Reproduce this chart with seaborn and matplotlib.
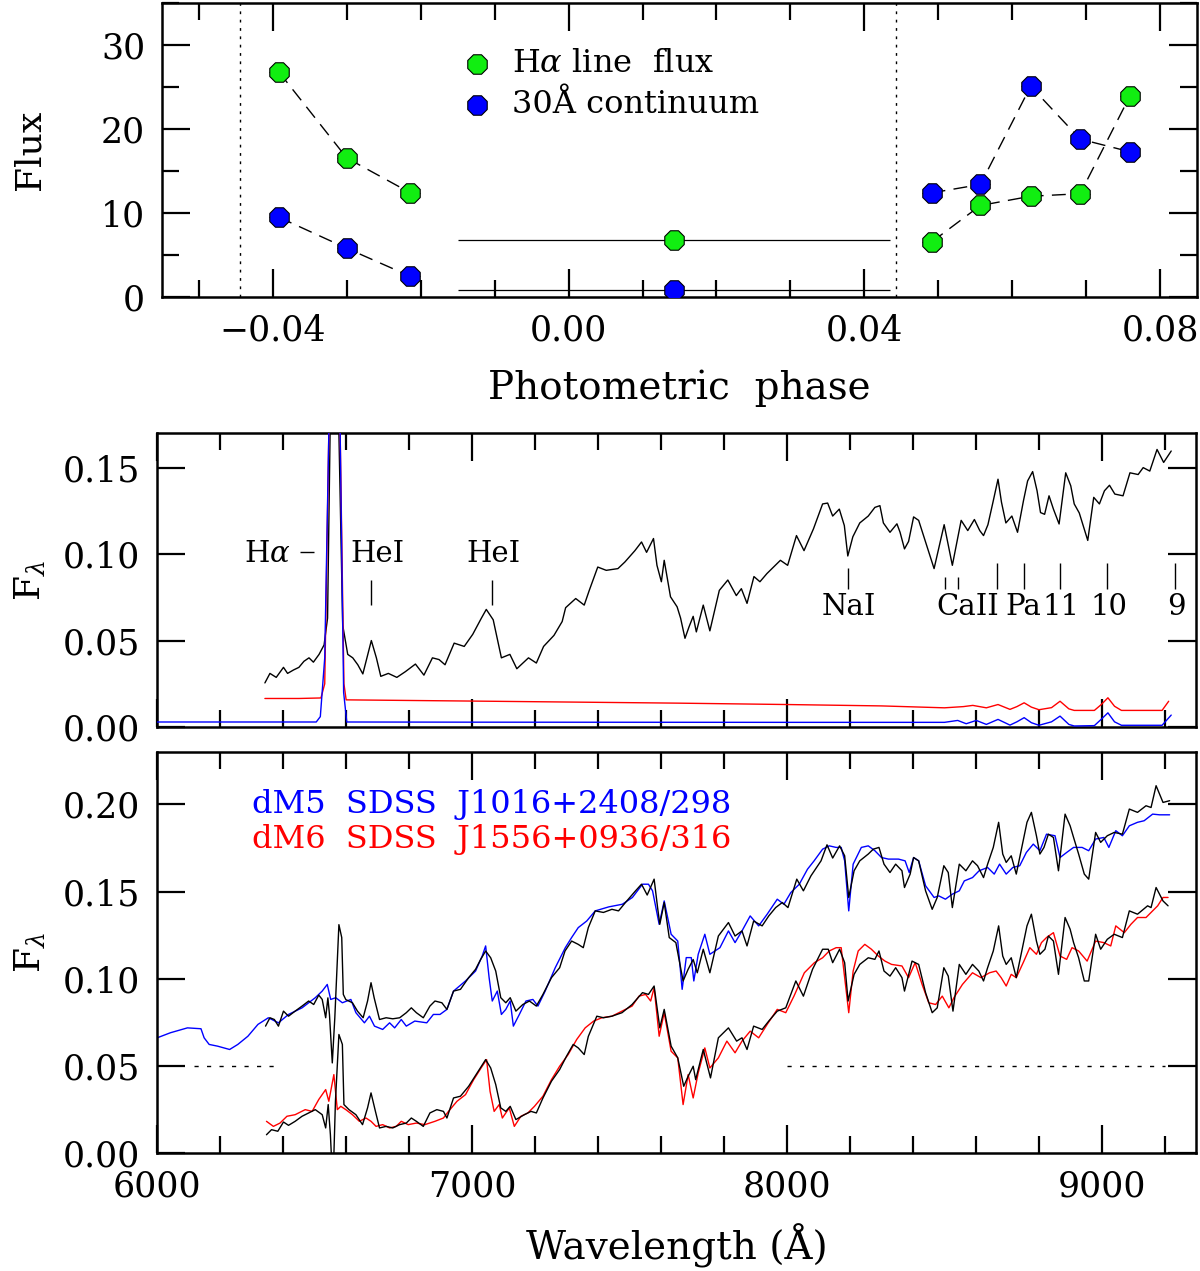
import numpy as np
import matplotlib
matplotlib.use("Agg")
import matplotlib.pyplot as plt
import seaborn as sns
from matplotlib.ticker import MultipleLocator

# ---------------- top panel: line and continuum flux vs phase ----------------
phase = [-0.0392, -0.0300, -0.0214, 0.0143, 0.0491, 0.0557, 0.0625, 0.0692, 0.0759]
phase_err = [0.0013, 0.0013, 0.0013, 0.0292, 0.0013, 0.0013, 0.0013, 0.0013, 0.0013]
ha_flux = [26.8, 16.55, 12.4, 6.8, 6.55, 10.9, 12.0, 12.3, 23.9]
cont_flux = [9.5, 5.8, 2.46, 0.83, 12.4, 13.4, 25.1, 18.8, 17.3]
eclipse_edges = [-0.0444, 0.0443]

# ---------------- middle panel: observed spectrum + emission models ----------------
mid_wave = [6342, 6358, 6378, 6401, 6414, 6433, 6450, 6466, 6482, 6496, 6514, 6530,
            6541, 6549, 6563, 6577, 6589, 6605, 6621, 6637, 6653, 6680, 6696, 6710,
            6734, 6761, 6788, 6820, 6847, 6874, 6895, 6914, 6943, 6975, 7002, 7029,
            7045, 7067, 7093, 7120, 7142, 7179, 7204, 7227, 7260, 7286, 7297, 7329,
            7356, 7372, 7399, 7426, 7463, 7485, 7517, 7538, 7554, 7576, 7587, 7601,
            7610, 7630, 7651, 7662, 7676, 7689, 7702, 7712, 7734, 7755, 7785, 7812,
            7839, 7855, 7873, 7895, 7914, 7936, 7957, 7979, 8002, 8030, 8054, 8084,
            8113, 8129, 8145, 8166, 8182, 8193, 8209, 8231, 8258, 8279, 8295, 8306,
            8327, 8349, 8359, 8373, 8386, 8402, 8418, 8440, 8467, 8499, 8525, 8553,
            8574, 8595, 8612, 8624, 8638, 8654, 8670, 8681, 8695, 8714, 8732, 8751,
            8764, 8780, 8794, 8805, 8818, 8832, 8846, 8864, 8885, 8901, 8912, 8928,
            8955, 8974, 8992, 9008, 9024, 9041, 9067, 9089, 9115, 9131, 9152, 9175,
            9196, 9220]
mid_flux = [0.0255, 0.031, 0.0287, 0.0345, 0.031, 0.033, 0.0345, 0.038, 0.040, 0.0375,
            0.042, 0.0475, 0.063, 0.17, 0.6, 0.17, 0.059, 0.042, 0.040, 0.036, 0.0307,
            0.050, 0.040, 0.0293, 0.031, 0.0287, 0.032, 0.0364, 0.030, 0.040, 0.039,
            0.036, 0.0485, 0.0466, 0.0536, 0.0628, 0.068, 0.062, 0.040, 0.042, 0.0337,
            0.040, 0.037, 0.0466, 0.053, 0.061, 0.069, 0.0743, 0.0705, 0.079, 0.0925,
            0.0906, 0.0916, 0.0954, 0.102, 0.107, 0.101, 0.109, 0.0935, 0.084, 0.0964,
            0.0753, 0.0695, 0.063, 0.0513, 0.058, 0.064, 0.055, 0.0705, 0.0556, 0.079,
            0.085, 0.076, 0.080, 0.0715, 0.087, 0.084, 0.0887, 0.0925, 0.0964, 0.0935,
            0.1107, 0.102, 0.1146, 0.129, 0.1295, 0.122, 0.126, 0.1165, 0.0989, 0.110,
            0.118, 0.122, 0.127, 0.128, 0.118, 0.1126, 0.1175, 0.1126, 0.103, 0.1073,
            0.1215, 0.1195, 0.107, 0.0916, 0.117, 0.0935, 0.1195, 0.1136, 0.120, 0.1136,
            0.1107, 0.117, 0.130, 0.1433, 0.130, 0.118, 0.122, 0.1126, 0.131, 0.1423,
            0.1477, 0.1366, 0.124, 0.123, 0.1337, 0.126, 0.1174, 0.147, 0.1395, 0.129,
            0.1238, 0.1079, 0.1328, 0.129, 0.1366, 0.1398, 0.1347, 0.1337, 0.147, 0.146,
            0.150, 0.148, 0.1605, 0.153, 0.1596]

red_model_wave = [6342, 6450, 6520, 6532, 6545, 6563, 6581, 6593, 6600, 7000, 7654,
                  8000, 8300, 8500, 8560, 8590, 8633, 8670, 8708, 8730, 8753, 8776,
                  8800, 8840, 8867, 8895, 8912, 8976, 8998, 9019, 9040, 9062, 9191, 9212]
red_model = [0.0165, 0.0165, 0.0168, 0.025, 0.17, 0.6, 0.17, 0.025, 0.0157, 0.0150,
             0.0138, 0.0130, 0.0122, 0.0111, 0.0118, 0.0125, 0.0111, 0.0130, 0.0102,
             0.0118, 0.0140, 0.0115, 0.0100, 0.0112, 0.0149, 0.0105, 0.0096, 0.0096,
             0.0130, 0.0169, 0.0120, 0.0096, 0.0096, 0.0149]

blue_model_wave = [6000, 6505, 6518, 6532, 6545, 6563, 6581, 6592, 6602, 7000, 8000,
                   8500, 8542, 8569, 8601, 8633, 8670, 8708, 8730, 8753, 8776, 8800,
                   8840, 8867, 8895, 8912, 8976, 8998, 9019, 9040, 9062, 9191, 9220]
blue_model = [0.0029, 0.0029, 0.006, 0.04, 0.17, 0.6, 0.17, 0.02, 0.0029, 0.0028,
              0.0027, 0.0027, 0.0038, 0.0019, 0.0038, 0.0015, 0.0044, 0.0011, 0.0030,
              0.0054, 0.0025, 0.0010, 0.0030, 0.0063, 0.0015, 0.0006, 0.0008, 0.0045,
              0.0082, 0.0030, 0.0010, 0.0010, 0.0069]

# line identifications (label, wavelength of label, y)
line_labels = ["HeI", "HeI", "NaI", "CaII", "Pa", "11", "10", "9"]
line_label_wave = [6700, 7069, 8195, 8574, 8751, 8869, 9021, 9236]
line_label_y = [0.100, 0.100, 0.0695, 0.0695, 0.0695, 0.0695, 0.0695, 0.0695]
mark_wave = [6678, 7064, 8193, 8501, 8544, 8668, 8751, 8866, 9017, 9231]
mark_lo = [0.0705, 0.0705, 0.080, 0.080, 0.080, 0.080, 0.080, 0.080, 0.080, 0.080]
mark_hi = [0.085, 0.085, 0.092, 0.0868, 0.0868, 0.095, 0.095, 0.095, 0.095, 0.095]

# ---------------- bottom panel: model-subtracted spectra vs templates ----------------
up_wave = [6344, 6358, 6372, 6385, 6401, 6417, 6438, 6460, 6481, 6497, 6513, 6524,
           6535, 6542, 6547, 6556, 6564, 6577, 6586, 6591, 6599, 6620, 6636, 6654,
           6668, 6679, 6689, 6706, 6727, 6748, 6770, 6791, 6807, 6823, 6845, 6866,
           6882, 6904, 6920, 6941, 6963, 6989, 7011, 7027, 7043, 7059, 7075, 7091,
           7107, 7121, 7139, 7161, 7182, 7204, 7225, 7252, 7278, 7295, 7316, 7337,
           7353, 7369, 7391, 7417, 7444, 7465, 7487, 7519, 7538, 7556, 7578, 7589,
           7596, 7610, 7626, 7647, 7670, 7686, 7702, 7715, 7734, 7755, 7782, 7814,
           7835, 7857, 7873, 7894, 7921, 7942, 7964, 7985, 8003, 8031, 8052, 8076,
           8108, 8127, 8145, 8167, 8183, 8196, 8213, 8231, 8258, 8274, 8292, 8308,
           8327, 8345, 8365, 8373, 8391, 8402, 8418, 8440, 8461, 8477, 8498, 8512,
           8525, 8547, 8568, 8589, 8605, 8624, 8637, 8655, 8672, 8685, 8696, 8712,
           8728, 8750, 8762, 8776, 8792, 8803, 8816, 8830, 8846, 8862, 8883, 8899,
           8910, 8926, 8944, 8958, 8980, 8996, 9017, 9039, 9065, 9087, 9113, 9140,
           9156, 9172, 9194, 9215]
up_flux = [0.0728, 0.0776, 0.0766, 0.0728, 0.0814, 0.0785, 0.0814, 0.0843, 0.0872,
           0.0852, 0.0906, 0.0881, 0.0776, 0.089, 0.0795, 0.0517, 0.0776, 0.131, 0.1236,
           0.091, 0.088, 0.0862, 0.0814, 0.0776, 0.0872, 0.0977, 0.089, 0.0766, 0.0776,
           0.077, 0.0776, 0.0805, 0.0833, 0.0805, 0.0776, 0.0843, 0.0872, 0.0862, 0.0824,
           0.0929, 0.0939, 0.1006, 0.1054, 0.111, 0.1159, 0.112, 0.1044, 0.0891, 0.0862,
           0.0891, 0.0814, 0.0852, 0.0872, 0.0843, 0.091, 0.1006, 0.1063, 0.1159, 0.1216,
           0.1197, 0.1178, 0.1293, 0.1389, 0.138, 0.1398, 0.1389, 0.1437, 0.1504, 0.1542,
           0.148, 0.1571, 0.1408, 0.1312, 0.1437, 0.1236, 0.1207, 0.0987, 0.1054, 0.111,
           0.1034, 0.1169, 0.1034, 0.1245, 0.1322, 0.1245, 0.1274, 0.1188, 0.1331, 0.1303,
           0.136, 0.1408, 0.1437, 0.1408, 0.1571, 0.1504, 0.159, 0.1676, 0.1768, 0.1692,
           0.1762, 0.1705, 0.1466, 0.1619, 0.1676, 0.1715, 0.1743, 0.1753, 0.1657, 0.1609,
           0.1657, 0.1619, 0.1523, 0.16, 0.1695, 0.1676, 0.1504, 0.1398, 0.1466, 0.1648,
           0.1609, 0.1408, 0.1657, 0.1619, 0.1676, 0.1648, 0.158, 0.1657, 0.1753, 0.1897,
           0.1715, 0.1667, 0.1705, 0.16, 0.1791, 0.1897, 0.1954, 0.182, 0.1715, 0.1753,
           0.1829, 0.181, 0.1619, 0.1944, 0.1877, 0.181, 0.1715, 0.16, 0.1571, 0.1839,
           0.1782, 0.182, 0.1839, 0.1829, 0.1973, 0.1954, 0.1992, 0.1982, 0.2107, 0.2011,
           0.2021]

dm5_wave = [6000, 6042, 6096, 6139, 6149, 6165, 6192, 6230, 6256, 6288, 6320, 6353,
            6385, 6417, 6460, 6502, 6524, 6540, 6551, 6567, 6588, 6615, 6631, 6658,
            6674, 6690, 6716, 6738, 6754, 6775, 6791, 6818, 6856, 6877, 6898, 6920,
            6941, 6979, 7011, 7032, 7043, 7054, 7064, 7080, 7093, 7107, 7121, 7131,
            7150, 7171, 7193, 7209, 7232, 7264, 7296, 7316, 7337, 7364, 7391, 7434,
            7477, 7509, 7541, 7560, 7573, 7594, 7610, 7632, 7653, 7667, 7680, 7696,
            7704, 7718, 7739, 7755, 7787, 7814, 7835, 7857, 7883, 7910, 7937, 7969,
            7990, 8012, 8039, 8065, 8086, 8113, 8134, 8156, 8172, 8183, 8196, 8210,
            8236, 8258, 8279, 8300, 8322, 8354, 8375, 8388, 8402, 8418, 8440, 8467,
            8482, 8503, 8525, 8547, 8563, 8589, 8610, 8637, 8658, 8675, 8696, 8717,
            8739, 8760, 8782, 8803, 8824, 8851, 8867, 8888, 8910, 8937, 8958, 8980,
            9006, 9022, 9044, 9065, 9087, 9113, 9134, 9161, 9183, 9215]
dm5_flux = [0.0661, 0.069, 0.0718, 0.0713, 0.0661, 0.0623, 0.0613, 0.0594, 0.0623,
            0.067, 0.0738, 0.0776, 0.0747, 0.0795, 0.0833, 0.0891, 0.0929, 0.0967,
            0.0881, 0.0891, 0.0862, 0.0881, 0.0805, 0.0747, 0.0785, 0.0728, 0.0709,
            0.0747, 0.0718, 0.0766, 0.0728, 0.0757, 0.0747, 0.0795, 0.0795, 0.0824,
            0.0929, 0.0987, 0.1044, 0.113, 0.1188, 0.1006, 0.0872, 0.0929, 0.0795,
            0.0824, 0.0872, 0.0728, 0.0795, 0.0872, 0.0881, 0.0843, 0.0929, 0.1063,
            0.1178, 0.1236, 0.1293, 0.1331, 0.1389, 0.1412, 0.1427, 0.1466, 0.1542,
            0.1542, 0.1504, 0.1312, 0.1446, 0.1255, 0.1216, 0.0939, 0.1121, 0.1121,
            0.0987, 0.114, 0.1255, 0.114, 0.1178, 0.1274, 0.1207, 0.1274, 0.136, 0.1303,
            0.137, 0.1456, 0.1427, 0.1494, 0.1542, 0.1628, 0.1676, 0.1743, 0.1762,
            0.1753, 0.1753, 0.1676, 0.1389, 0.1657, 0.1753, 0.1762, 0.1734, 0.1695,
            0.1686, 0.1686, 0.1676, 0.1609, 0.1695, 0.1676, 0.1533, 0.1466, 0.1475,
            0.1456, 0.1485, 0.1504, 0.1561, 0.158, 0.1619, 0.1638, 0.16, 0.1657, 0.16,
            0.1638, 0.1648, 0.1724, 0.1772, 0.1734, 0.1829, 0.182, 0.1695, 0.1724,
            0.1753, 0.1753, 0.1734, 0.1801, 0.181, 0.1753, 0.1849, 0.182, 0.1877, 0.1897,
            0.1906, 0.1944, 0.194, 0.194]

lo_wave = [6347, 6363, 6383, 6401, 6417, 6438, 6460, 6481, 6502, 6524, 6535, 6543,
           6550, 6558, 6566, 6577, 6588, 6593, 6609, 6631, 6652, 6668, 6679, 6693,
           6706, 6727, 6748, 6770, 6791, 6807, 6823, 6845, 6866, 6888, 6909, 6920,
           6941, 6963, 6989, 7016, 7043, 7059, 7075, 7091, 7107, 7121, 7139, 7166,
           7187, 7204, 7225, 7252, 7278, 7300, 7321, 7337, 7356, 7369, 7396, 7417,
           7444, 7476, 7508, 7541, 7560, 7578, 7589, 7596, 7610, 7632, 7653, 7672,
           7686, 7702, 7710, 7734, 7757, 7782, 7814, 7840, 7857, 7873, 7894, 7921,
           7942, 7969, 7996, 8028, 8052, 8081, 8113, 8131, 8145, 8167, 8183, 8194,
           8213, 8231, 8258, 8279, 8292, 8308, 8327, 8345, 8365, 8373, 8397, 8418,
           8440, 8461, 8477, 8498, 8512, 8527, 8547, 8568, 8589, 8609, 8624, 8637,
           8655, 8672, 8685, 8696, 8712, 8728, 8750, 8762, 8776, 8792, 8803, 8819,
           8830, 8846, 8862, 8883, 8899, 8910, 8926, 8944, 8958, 8980, 8996, 9017,
           9039, 9065, 9087, 9113, 9145, 9156, 9172, 9194, 9210]
lo_flux = [0.0105, 0.0134, 0.0125, 0.0178, 0.0159, 0.0182, 0.0211, 0.023, 0.0249,
           0.022, 0.0144, 0.0278, 0.0105, -0.02, 0.0297, 0.068, 0.0623, 0.0278, 0.0249,
           0.022, 0.0163, 0.0259, 0.0345, 0.0239, 0.0144, 0.0153, 0.0144, 0.0163,
           0.0172, 0.0201, 0.0182, 0.0153, 0.023, 0.0249, 0.0239, 0.0201, 0.0316,
           0.0326, 0.0383, 0.046, 0.0536, 0.0488, 0.0393, 0.0259, 0.0239, 0.0268,
           0.0192, 0.022, 0.0239, 0.023, 0.0316, 0.0412, 0.0479, 0.0556, 0.0623,
           0.0603, 0.0565, 0.0669, 0.0785, 0.0776, 0.0785, 0.0805, 0.0852, 0.092,
           0.091, 0.0958, 0.0814, 0.0718, 0.0824, 0.0613, 0.0546, 0.0383, 0.044,
           0.0498, 0.0421, 0.0594, 0.0431, 0.0661, 0.0718, 0.0642, 0.0661, 0.0594,
           0.0728, 0.0709, 0.0757, 0.0814, 0.0833, 0.0987, 0.09, 0.1054, 0.1169, 0.1169,
           0.1092, 0.1169, 0.1092, 0.0872, 0.1025, 0.1082, 0.112, 0.1111, 0.1159,
           0.1044, 0.1015, 0.1063, 0.1006, 0.0929, 0.1101, 0.1082, 0.092, 0.0805,
           0.0833, 0.1063, 0.1015, 0.0814, 0.1082, 0.1025, 0.1082, 0.1044, 0.0987,
           0.1063, 0.1159, 0.1303, 0.113, 0.1082, 0.112, 0.1006, 0.1197, 0.1303, 0.137,
           0.1216, 0.114, 0.1169, 0.1245, 0.1216, 0.1025, 0.1351, 0.1284, 0.1207, 0.112,
           0.0987, 0.0987, 0.1255, 0.1169, 0.1226, 0.1255, 0.1236, 0.1389, 0.137,
           0.1418, 0.1408, 0.1523, 0.1446, 0.1418]

dm6_wave = [6347, 6369, 6390, 6412, 6438, 6470, 6492, 6513, 6535, 6545, 6561, 6572,
            6583, 6599, 6620, 6642, 6663, 6679, 6695, 6716, 6738, 6759, 6775, 6797,
            6823, 6850, 6882, 6909, 6925, 6952, 6979, 7005, 7032, 7046, 7057, 7070,
            7086, 7096, 7118, 7134, 7155, 7177, 7198, 7225, 7252, 7278, 7305, 7332,
            7359, 7386, 7412, 7444, 7476, 7508, 7530, 7551, 7567, 7578, 7594, 7610,
            7632, 7653, 7670, 7686, 7702, 7718, 7739, 7755, 7782, 7809, 7835, 7857,
            7883, 7910, 7937, 7969, 7996, 8022, 8055, 8087, 8113, 8134, 8156, 8172,
            8183, 8196, 8210, 8226, 8247, 8268, 8290, 8311, 8332, 8365, 8386, 8407,
            8429, 8450, 8472, 8493, 8514, 8530, 8557, 8589, 8616, 8643, 8664, 8680,
            8696, 8712, 8728, 8750, 8771, 8792, 8808, 8824, 8846, 8867, 8888, 8905,
            8926, 8953, 8980, 9006, 9028, 9044, 9071, 9092, 9113, 9140, 9161, 9177,
            9194, 9210]
dm6_flux = [0.0182, 0.0153, 0.0172, 0.0211, 0.022, 0.0249, 0.0239, 0.0307, 0.0364,
            0.0297, 0.045, 0.0249, 0.0268, 0.0249, 0.022, 0.0182, 0.0201, 0.0182,
            0.0153, 0.0163, 0.0144, 0.0153, 0.0182, 0.0163, 0.0172, 0.0163, 0.0182,
            0.0201, 0.0239, 0.0297, 0.0335, 0.0421, 0.0498, 0.0536, 0.0354, 0.0239,
            0.0278, 0.0201, 0.0259, 0.0153, 0.0211, 0.023, 0.0268, 0.0326, 0.0421,
            0.0498, 0.0565, 0.0651, 0.0718, 0.0757, 0.0776, 0.0785, 0.0814, 0.0843,
            0.09, 0.091, 0.0872, 0.0948, 0.067, 0.0805, 0.0584, 0.0546, 0.0278, 0.045,
            0.0316, 0.046, 0.0603, 0.0488, 0.0546, 0.0642, 0.0575, 0.0642, 0.0699,
            0.0661, 0.0738, 0.0824, 0.0805, 0.09, 0.1034, 0.1092, 0.112, 0.1159, 0.1178,
            0.1178, 0.1006, 0.0805, 0.1044, 0.1159, 0.1197, 0.1169, 0.113, 0.1101,
            0.1082, 0.1073, 0.1006, 0.1092, 0.0967, 0.0862, 0.0852, 0.09, 0.0833,
            0.0891, 0.0967, 0.1034, 0.1006, 0.1034, 0.1044, 0.1006, 0.0958, 0.1025,
            0.1006, 0.1092, 0.1178, 0.114, 0.1207, 0.1236, 0.1264, 0.113, 0.1111,
            0.1178, 0.1159, 0.1101, 0.1216, 0.1207, 0.1188, 0.1303, 0.1264, 0.1312,
            0.1351, 0.1351, 0.1389, 0.1418, 0.1466, 0.1466]

dm5_label = "dM5  SDSS  J1016+2408/298"
dm6_label = "dM6  SDSS  J1556+0936/316"

# ---------------- styling ----------------
sns.set_theme(style="ticks")
plt.rcParams["font.family"] = ["DejaVu Serif"]
plt.rcParams["mathtext.fontset"] = "dejavuserif"
plt.rcParams["text.color"] = "black"
plt.rcParams["axes.labelcolor"] = "black"
plt.rcParams["xtick.color"] = "black"
plt.rcParams["ytick.color"] = "black"

GREEN = "#11ee11"
BLUE = "#0000ff"
RED = "#ff0000"
TICK_FS = 25
LABEL_FS = 28


def style_axis(ax):
    for sp in ax.spines.values():
        sp.set_linewidth(1.8)
        sp.set_color("black")
    ax.tick_params(which="both", direction="in", top=True, right=True,
                   width=1.6, colors="black", labelsize=TICK_FS, pad=12)
    ax.tick_params(which="major", length=20)
    ax.tick_params(which="minor", length=12)


fig = plt.figure(figsize=(12, 12.71), dpi=100)
ax1 = fig.add_axes([0.135, 0.7663, 0.8625, 0.2313])
ax2 = fig.add_axes([0.131, 0.428, 0.866, 0.2313])
ax3 = fig.add_axes([0.131, 0.0928, 0.866, 0.3155])

# ---- top panel ----
ph = np.array(phase)
ha = np.array(ha_flux)
ct = np.array(cont_flux)
dash = (0, (10, 6))
for sl in (slice(0, 3), slice(4, 9)):
    ax1.plot(ph[sl], ha[sl], color="black", lw=1.0, ls=dash, zorder=1)
    ax1.plot(ph[sl], ct[sl], color="black", lw=1.0, ls=dash, zorder=1)
ax1.errorbar(ph, ha, xerr=phase_err, fmt="none", ecolor="black", elinewidth=0.9,
             capsize=0, zorder=2)
ax1.errorbar(ph, ct, xerr=phase_err, fmt="none", ecolor="black", elinewidth=0.9,
             capsize=0, zorder=2)
sns.scatterplot(x=ph, y=ha, ax=ax1, marker="8", s=230, color=GREEN,
                edgecolor="black", linewidth=0.8, zorder=3,
                label=r"H$\alpha$ line  flux")
sns.scatterplot(x=ph, y=ct, ax=ax1, marker="8", s=230, color=BLUE,
                edgecolor="black", linewidth=0.8, zorder=3,
                label="30Å continuum")
for xe in eclipse_edges:
    ax1.axvline(xe, color="black", lw=1.0, ls=(0, (2, 4)), zorder=0)
ax1.set_xlim(-0.055, 0.085)
ax1.set_ylim(0, 35)
ax1.xaxis.set_major_locator(MultipleLocator(0.04))
ax1.xaxis.set_minor_locator(MultipleLocator(0.01))
ax1.yaxis.set_major_locator(MultipleLocator(10))
ax1.yaxis.set_minor_locator(MultipleLocator(5))
ax1.xaxis.set_major_formatter(matplotlib.ticker.FuncFormatter(
    lambda v, p: ("\u2212" if v < -1e-9 else "") + f"{abs(v):.2f}"))
ax1.set_xlabel("Photometric  phase", fontsize=LABEL_FS, labelpad=16)
ax1.set_ylabel("Flux", fontsize=26)
ax1.yaxis.set_label_coords(-0.112, 0.5)
leg = ax1.legend(loc="upper left", bbox_to_anchor=(0.27, 0.9), frameon=False,
                 fontsize=23, handlelength=1.2, handletextpad=0.5,
                 labelspacing=0.3, borderpad=0)
for t in leg.get_texts():
    t.set_color("black")
style_axis(ax1)

# ---- middle panel ----
sns.lineplot(x=mid_wave, y=mid_flux, ax=ax2, color="black", lw=1.0,
             estimator=None, sort=False, zorder=2)
sns.lineplot(x=red_model_wave, y=red_model, ax=ax2, color=RED, lw=1.0,
             estimator=None, sort=False, zorder=3)
sns.lineplot(x=blue_model_wave, y=blue_model, ax=ax2, color=BLUE, lw=1.0,
             estimator=None, sort=False, zorder=3)
ax2.vlines(mark_wave, mark_lo, mark_hi, color="black", lw=1.0)
for lab, xw, yv in zip(line_labels, line_label_wave, line_label_y):
    ax2.text(xw, yv, lab, fontsize=21, ha="center", va="center", color="black")
ax2.text(6348, 0.100, r"H$\alpha$", fontsize=21, ha="center", va="center",
         color="black")
ax2.hlines(0.101, 6453, 6498, color="black", lw=1.0)
ax2.set_xlim(6000, 9300)
ax2.set_ylim(0, 0.17)
ax2.xaxis.set_major_locator(MultipleLocator(1000))
ax2.xaxis.set_minor_locator(MultipleLocator(200))
ax2.yaxis.set_major_locator(MultipleLocator(0.05))
ax2.yaxis.set_major_formatter(matplotlib.ticker.FormatStrFormatter("%.2f"))
ax2.set_xlabel("")
ax2.set_ylabel(r"F$_\lambda$", fontsize=26)
ax2.yaxis.set_label_coords(-0.105, 0.5)
style_axis(ax2)
ax2.tick_params(axis="x", labelbottom=False)

# ---- bottom panel ----
sns.lineplot(x=dm5_wave, y=dm5_flux, ax=ax3, color=BLUE, lw=1.0,
             estimator=None, sort=False, zorder=2)
sns.lineplot(x=dm6_wave, y=dm6_flux, ax=ax3, color=RED, lw=1.0,
             estimator=None, sort=False, zorder=2)
sns.lineplot(x=up_wave, y=up_flux, ax=ax3, color="black", lw=1.0,
             estimator=None, sort=False, zorder=3)
sns.lineplot(x=lo_wave, y=lo_flux, ax=ax3, color="black", lw=1.0,
             estimator=None, sort=False, zorder=3)
ax3.hlines([0.05, 0.05], [6118, 8000], [6385, 9199], color="black", lw=1.0,
           linestyles=(0, (3, 6)))
ax3.text(6300, 0.200, dm5_label, color=BLUE, fontsize=23, ha="left", va="center")
ax3.text(6300, 0.180, dm6_label, color=RED, fontsize=23, ha="left", va="center")
ax3.set_xlim(6000, 9300)
ax3.set_ylim(0, 0.23)
ax3.xaxis.set_major_locator(MultipleLocator(1000))
ax3.xaxis.set_minor_locator(MultipleLocator(200))
ax3.yaxis.set_major_locator(MultipleLocator(0.05))
ax3.yaxis.set_major_formatter(matplotlib.ticker.FormatStrFormatter("%.2f"))
ax3.set_xlabel("Wavelength (Å)", fontsize=LABEL_FS, labelpad=14)
ax3.set_ylabel(r"F$_\lambda$", fontsize=26)
ax3.yaxis.set_label_coords(-0.105, 0.5)
style_axis(ax3)

fig.savefig("out.png", dpi=100)
